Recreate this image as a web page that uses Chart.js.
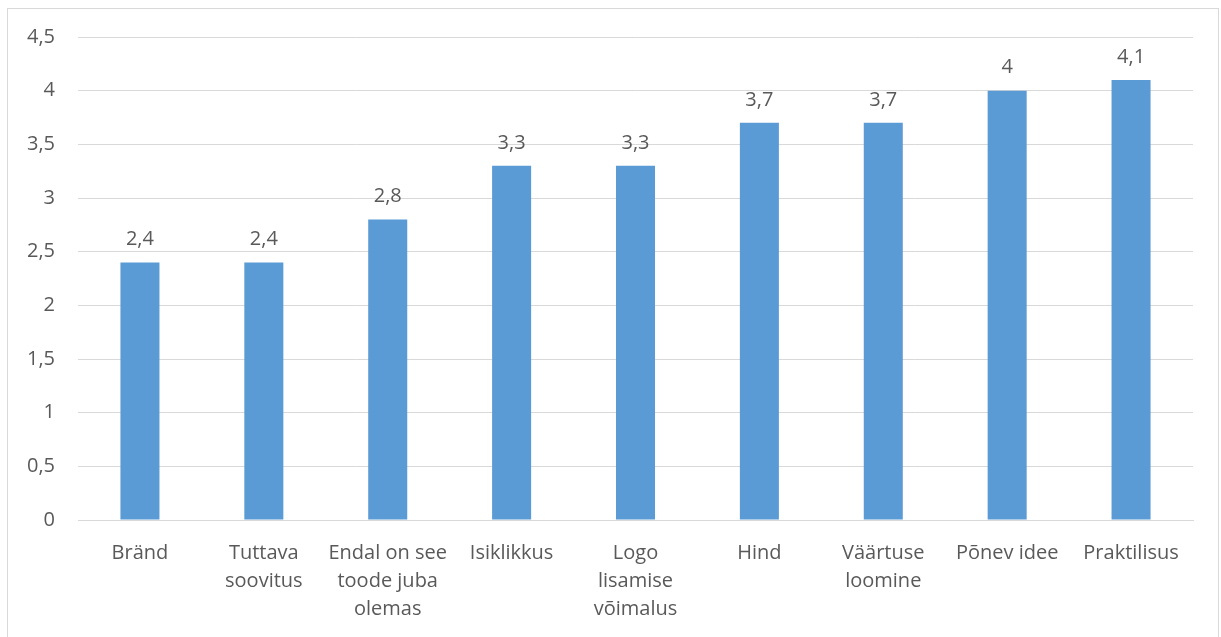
<!DOCTYPE html>
<html>
<head>
<meta charset="utf-8">
<script src="https://cdn.jsdelivr.net/npm/chart.js@4"></script>
<style>
    body { margin: 0; background: #fff; }
    #box {
        position: absolute; left: 7px; top: 8px;
        width: 1212px; height: 640px;
        border: 1px solid #d9d9d9; box-sizing: border-box;
    }
    #chart { display: block; }
</style>
</head>
<body>
<div id="box"><canvas id="chart" width="1210" height="628"></canvas></div>
<script>
// andmed
var categories = [
    "Bränd",
    ["Tuttava", "soovitus"],
    ["Endal on see", "toode juba", "olemas"],
    "Isiklikkus",
    ["Logo", "lisamise", "võimalus"],
    "Hind",
    ["Väärtuse", "loomine"],
    "Põnev idee",
    "Praktilisus"
];
var values = [2.4, 2.4, 2.8, 3.3, 3.3, 3.7, 3.7, 4, 4.1];
var yTicks = [0, 0.5, 1, 1.5, 2, 2.5, 3, 3.5, 4, 4.5];

var textColor = "#595959";
var fontFamily = "'Open Sans', 'Liberation Sans', sans-serif";

function fmt(v) {
    return String(v).replace(".", ",");
}

// väärtused tulpade kohale
var valueLabels = {
    id: "valueLabels",
    afterDatasetsDraw: function (chart) {
        var ctx = chart.ctx;
        var meta = chart.getDatasetMeta(0);
        ctx.save();
        ctx.fillStyle = textColor;
        ctx.font = "20px " + fontFamily;
        ctx.textAlign = "center";
        ctx.textBaseline = "middle";
        meta.data.forEach(function (bar, i) {
            ctx.fillText(fmt(values[i]), bar.x, bar.y - 23);
        });
        ctx.restore();
    }
};

var ctx = document.getElementById("chart").getContext("2d");
var chart = new Chart(ctx, {
    type: "bar",
    data: {
        labels: categories,
        datasets: [{
            data: values,
            backgroundColor: "#5b9bd5",
            borderWidth: 0,
            categoryPercentage: 1,
            barPercentage: 0.315
        }]
    },
    options: {
        responsive: false,
        animation: false,
        layout: {
            padding: { top: 28, right: 25, left: 0, bottom: 0 }
        },
        plugins: {
            legend: { display: false },
            tooltip: { enabled: false }
        },
        scales: {
            x: {
                grid: { display: false },
                border: { color: "#d9d9d9", width: 1 },
                afterFit: function (scale) {
                    scale.height = 117;
                },
                ticks: {
                    color: textColor,
                    font: { family: fontFamily, size: 20, lineHeight: 1.4 },
                    maxRotation: 0,
                    autoSkip: false,
                    padding: 11
                }
            },
            y: {
                min: 0,
                max: 4.5,
                afterBuildTicks: function (scale) {
                    scale.ticks = yTicks.map(function (v) { return { value: v }; });
                },
                afterFit: function (scale) {
                    scale.width = 70;
                    scale.paddingTop = 10;
                    scale.paddingBottom = 10;
                },
                grid: {
                    color: "#d9d9d9",
                    lineWidth: 1,
                    drawTicks: false
                },
                border: { display: false },
                ticks: {
                    color: textColor,
                    font: { family: fontFamily, size: 20 },
                    padding: 23,
                    callback: function (v) { return fmt(v); }
                }
            }
        }
    },
    plugins: [valueLabels]
});
</script>
</body>
</html>
